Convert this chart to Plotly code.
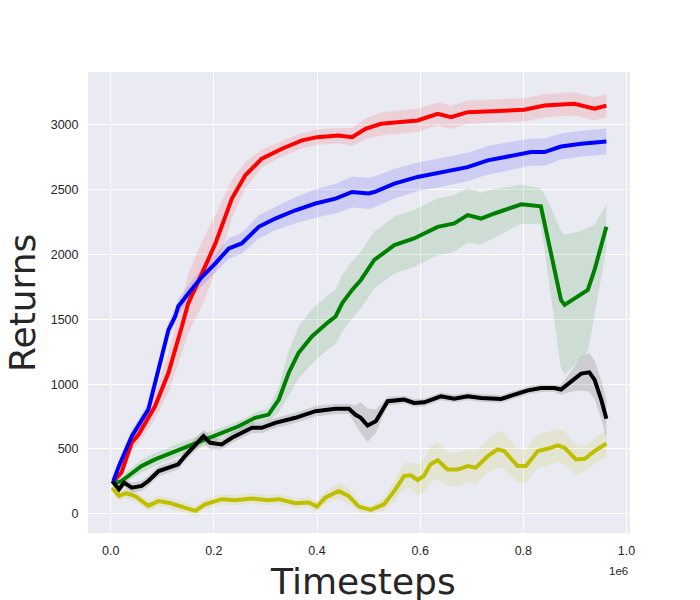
import plotly.graph_objects as go

# ---- data (timesteps in units of 1e6, returns) ----
red_t = [0.005, 0.021, 0.041, 0.054, 0.086, 0.112, 0.138, 0.150, 0.177, 0.203, 0.222, 0.235, 0.261, 0.293,
         0.332, 0.371, 0.400, 0.442, 0.468, 0.494, 0.524, 0.595, 0.634, 0.660, 0.692, 0.757, 0.802, 0.841,
         0.899, 0.938, 0.961]
red_v = [250, 319, 550, 611, 829, 1088, 1445, 1620, 1855, 2086, 2291, 2432, 2612, 2740,
         2817, 2881, 2906, 2919, 2906, 2971, 3009, 3035, 3086, 3060, 3099, 3112, 3117, 3150,
         3163, 3125, 3150]
red_sd = [30, 40, 60, 70, 100, 150, 200, 230, 250, 220, 180, 150, 100, 70,
          60, 60, 60, 60, 70, 80, 90, 90, 90, 90, 90, 90, 90, 90,
          90, 90, 90]

blue_t = [0.005, 0.016, 0.041, 0.060, 0.073, 0.086, 0.099, 0.112, 0.125, 0.131, 0.151, 0.177, 0.203, 0.229,
          0.254, 0.287, 0.319, 0.358, 0.397, 0.436, 0.468, 0.500, 0.511, 0.550, 0.595, 0.647, 0.692, 0.731,
          0.763, 0.815, 0.841, 0.873, 0.912, 0.961]
blue_v = [250, 368, 598, 727, 804, 1009, 1214, 1419, 1522, 1600, 1701, 1829, 1932, 2047,
          2086, 2214, 2278, 2342, 2394, 2432, 2483, 2471, 2483, 2548, 2599, 2637, 2675, 2727,
          2752, 2791, 2791, 2834, 2855, 2873]
blue_sd = [30, 40, 50, 50, 50, 60, 60, 60, 60, 60, 60, 70, 70, 80,
           80, 90, 90, 100, 110, 115, 120, 120, 120, 115, 110, 110, 110, 110,
           110, 105, 105, 100, 100, 100]

green_t = [0.005, 0.021, 0.034, 0.060, 0.086, 0.118, 0.151, 0.183, 0.215, 0.248, 0.280, 0.306, 0.326, 0.345,
           0.364, 0.390, 0.423, 0.436, 0.449, 0.468, 0.485, 0.511, 0.550, 0.588, 0.634, 0.666, 0.692, 0.718,
           0.744, 0.770, 0.796, 0.834, 0.854, 0.873, 0.880, 0.906, 0.925, 0.938, 0.961]
green_v = [230, 252, 291, 368, 419, 470, 522, 573, 624, 675, 740, 765, 881, 1086,
           1240, 1368, 1483, 1522, 1625, 1727, 1804, 1958, 2073, 2124, 2214, 2240, 2304, 2278,
           2317, 2355, 2388, 2373, 2009, 1650, 1612, 1675, 1727, 1881, 2214]
green_sd = [20, 30, 40, 50, 50, 50, 50, 50, 40, 40, 40, 50, 100, 170,
            200, 210, 210, 210, 220, 220, 220, 220, 220, 220, 220, 220, 210, 200,
            190, 170, 150, 140, 350, 530, 540, 500, 480, 350, 170]

black_t = [0.003, 0.016, 0.026, 0.041, 0.060, 0.073, 0.093, 0.112, 0.131, 0.144, 0.164, 0.180, 0.193, 0.215,
           0.235, 0.274, 0.293, 0.319, 0.358, 0.397, 0.436, 0.462, 0.474, 0.485, 0.498, 0.514, 0.537, 0.569,
           0.588, 0.608, 0.640, 0.666, 0.692, 0.718, 0.757, 0.783, 0.809, 0.834, 0.860, 0.873, 0.893, 0.912,
           0.928, 0.938, 0.951, 0.961]
black_v = [252, 188, 240, 201, 214, 252, 329, 355, 381, 445, 535, 598, 547, 535,
           586, 663, 663, 701, 740, 791, 809, 809, 765, 740, 681, 714, 868, 881,
           855, 860, 906, 888, 906, 893, 886, 919, 952, 970, 970, 958, 1022, 1081,
           1091, 1035, 881, 732]
black_sd = [30, 30, 30, 40, 40, 40, 40, 40, 40, 40, 50, 50, 50, 40,
            40, 40, 40, 40, 40, 40, 40, 40, 70, 120, 130, 90, 35, 30,
            30, 30, 30, 30, 30, 30, 30, 30, 30, 30, 30, 40, 80, 130,
            150, 150, 150, 150]

yellow_t = [0.003, 0.016, 0.030, 0.047, 0.073, 0.093, 0.112, 0.131, 0.151, 0.164, 0.183, 0.215, 0.241, 0.274,
            0.306, 0.326, 0.358, 0.384, 0.400, 0.416, 0.442, 0.461, 0.481, 0.497, 0.504, 0.530, 0.550, 0.569,
            0.582, 0.595, 0.607, 0.620, 0.634, 0.653, 0.673, 0.692, 0.708, 0.731, 0.750, 0.763, 0.789, 0.805,
            0.828, 0.847, 0.867, 0.880, 0.902, 0.919, 0.938, 0.961]
yellow_v = [201, 137, 158, 137, 60, 98, 85, 60, 35, 22, 73, 112, 104, 117,
            104, 112, 81, 86, 55, 124, 176, 137, 55, 35, 30, 73, 176, 291,
            296, 260, 291, 381, 412, 342, 342, 368, 355, 445, 496, 483, 368, 368,
            483, 501, 527, 509, 419, 424, 483, 542]
yellow_sd = [30, 40, 40, 40, 40, 40, 40, 40, 40, 40, 40, 40, 40, 40,
             40, 40, 40, 40, 40, 50, 60, 60, 40, 30, 30, 50, 80, 100,
             100, 120, 130, 140, 140, 130, 130, 130, 130, 130, 140, 140, 130, 130,
             130, 130, 130, 130, 120, 100, 100, 100]

x_tick_vals = [0.0, 0.2, 0.4, 0.6, 0.8, 1.0]
x_tick_text = ["0.0", "0.2", "0.4", "0.6", "0.8", "1.0"]
y_tick_vals = [0, 500, 1000, 1500, 2000, 2500, 3000]
y_tick_text = ["0", "500", "1000", "1500", "2000", "2500", "3000"]

SCALE = 1e6

series = [
    (yellow_t, yellow_v, yellow_sd, "#BFBF00", "rgba(191,191,0,0.13)"),
    (red_t, red_v, red_sd, "#FF0000", "rgba(255,0,0,0.11)"),
    (green_t, green_v, green_sd, "#008000", "rgba(0,128,0,0.12)"),
    (black_t, black_v, black_sd, "#000000", "rgba(0,0,0,0.12)"),
    (blue_t, blue_v, blue_sd, "#0000FF", "rgba(0,0,255,0.12)"),
]

fig = go.Figure()
for t, v, sd, col, fillcol in series:
    xs = [a * SCALE for a in t]
    up = [m + s for m, s in zip(v, sd)]
    lo = [m - s for m, s in zip(v, sd)]
    fig.add_trace(go.Scatter(x=xs + xs[::-1], y=up + lo[::-1], fill="toself",
                             fillcolor=fillcol, line=dict(width=0), mode="lines",
                             hoverinfo="skip", showlegend=False))
for t, v, sd, col, fillcol in series:
    xs = [a * SCALE for a in t]
    fig.add_trace(go.Scatter(x=xs, y=v, mode="lines", line=dict(color=col, width=4),
                             showlegend=False))

# page body adds an 8px offset, so the figure is sized to fit the window
fig.update_layout(
    width=692, height=592,
    margin=dict(l=80, r=70, t=64, b=67),
    paper_bgcolor="white", plot_bgcolor="#EAEAF2",
    font=dict(family="Liberation Sans, Arial, sans-serif", size=12, color="#262626"),
)
fig.update_xaxes(
    range=[-0.044 * SCALE, 1.0068 * SCALE], automargin=False,
    tickvals=[v * SCALE for v in x_tick_vals], ticktext=x_tick_text,
    showgrid=True, gridcolor="white", gridwidth=1.3, zeroline=False, showline=False,
    ticks="outside", ticklen=6, tickcolor="rgba(0,0,0,0)",
    tickfont=dict(size=12.5, color="#262626"),
)
fig.update_yaxes(
    range=[-149, 3409], automargin=False,
    tickvals=y_tick_vals, ticktext=y_tick_text,
    showgrid=True, gridcolor="white", gridwidth=1.3, zeroline=False, showline=False,
    ticks="outside", ticklen=6, tickcolor="rgba(0,0,0,0)",
    tickfont=dict(size=12.5, color="#262626"),
)
fig.add_annotation(text="Timesteps", xref="paper", yref="paper", x=0.5065, y=-0.106,
                   xanchor="center", yanchor="middle", showarrow=False,
                   font=dict(family="DejaVu Sans", size=36, color="#262626"))
fig.add_annotation(text="Returns", xref="paper", yref="paper", x=-0.121, y=0.5,
                   xanchor="center", yanchor="middle", showarrow=False, textangle=-90,
                   font=dict(family="DejaVu Sans", size=36, color="#262626"))
fig.add_annotation(text="1e6", xref="paper", yref="paper", x=1.0, y=-0.083,
                   xanchor="right", yanchor="middle", showarrow=False,
                   font=dict(size=11.5, color="#262626"))

fig.write_html("out.html")
